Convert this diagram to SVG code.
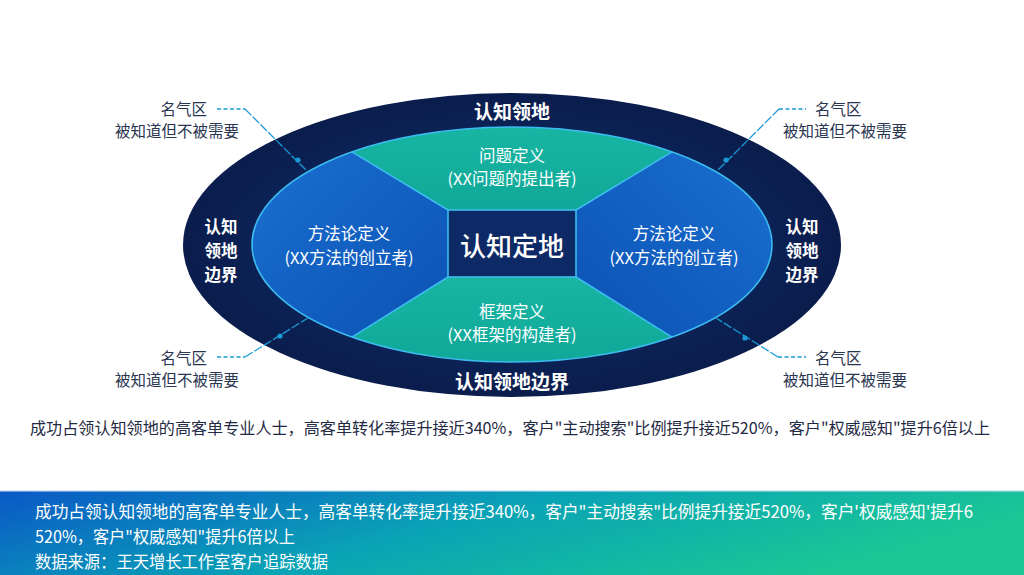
<svg xmlns="http://www.w3.org/2000/svg" width="1024" height="575" viewBox="0 0 1024 575">
<defs>
<radialGradient id="gOuter" cx="50%" cy="50%" r="50%">
<stop offset="0%" stop-color="#12306e"/>
<stop offset="100%" stop-color="#0a1d4d"/>
</radialGradient>
<linearGradient id="gBlueL" x1="0" y1="0" x2="1" y2="1">
<stop offset="0%" stop-color="#1a6fd0"/>
<stop offset="100%" stop-color="#0b52b4"/>
</linearGradient>
<linearGradient id="gBlueR" x1="1" y1="0" x2="0" y2="1">
<stop offset="0%" stop-color="#1a6fd0"/>
<stop offset="100%" stop-color="#0b52b4"/>
</linearGradient>
<linearGradient id="gTeal" x1="0" y1="0" x2="0" y2="1">
<stop offset="0%" stop-color="#18b5a3"/>
<stop offset="100%" stop-color="#10a898"/>
</linearGradient>
<linearGradient id="gBanner" x1="0" y1="0" x2="1" y2="0.3">
<stop offset="0%" stop-color="#0a58c6"/>
<stop offset="50%" stop-color="#0aa2b6"/>
<stop offset="100%" stop-color="#1ac795"/>
</linearGradient>
<style>
text{font-family:"Noto Sans CJK SC","Noto Sans",sans-serif;dominant-baseline:central}
.w{fill:#ffffff}
.ring{font-size:19px;font-weight:700;fill:#ffffff;text-anchor:middle}
.side{font-size:16.5px;font-weight:700;fill:#ffffff;text-anchor:middle}
.seg{font-size:16.5px;fill:#ffffff;text-anchor:middle}
.call{font-size:15.5px;fill:#2a3550}
.edge{stroke:#3cbcf0;stroke-width:1.6;fill:none}
.lead{stroke:#1a9ad6;stroke-width:1.3;fill:none}
.dash{stroke-dasharray:4 2.5}
.dot{fill:#1a9ad6}
.ban{font-size:17px;fill:#ffffff}
</style>
</defs>
<rect width="1024" height="575" fill="#ffffff"/>

<g id="outer-ring">
<ellipse cx="512" cy="245" rx="329" ry="152" fill="url(#gOuter)"/>
<text class="ring" x="512" y="110">认知领地</text>
<text class="ring" x="512" y="380">认知领地边界</text>
<text class="side" x="221" y="226">认知</text>
<text class="side" x="221" y="250">领地</text>
<text class="side" x="221" y="274">边界</text>
<text class="side" x="802" y="226">认知</text>
<text class="side" x="802" y="250">领地</text>
<text class="side" x="802" y="274">边界</text>
</g>

<g id="left-method">
<path d="M352,151.9 L448,210 L448,277 L352,337.1 A260 117.5 0 0 1 352,151.9 Z" fill="url(#gBlueL)"/>
<text class="seg" x="349" y="233">方法论定义</text>
<text class="seg" x="349" y="257">(XX方法的创立者)</text>
</g>

<g id="right-method">
<path d="M672,151.9 A260 117.5 0 0 1 672,337.1 L576,277 L576,210 Z" fill="url(#gBlueR)"/>
<text class="seg" x="674" y="233">方法论定义</text>
<text class="seg" x="674" y="257">(XX方法的创立者)</text>
</g>

<g id="top-problem">
<path d="M352,151.9 A260 117.5 0 0 1 672,151.9 L576,210 L448,210 Z" fill="url(#gTeal)"/>
<text class="seg" x="512" y="155">问题定义</text>
<text class="seg" x="512" y="178">(XX问题的提出者)</text>
</g>

<g id="bottom-framework">
<path d="M448,277 L576,277 L672,337.1 A260 117.5 0 0 1 352,337.1 Z" fill="url(#gTeal)"/>
<text class="seg" x="512" y="311">框架定义</text>
<text class="seg" x="512" y="334">(XX框架的构建者)</text>
</g>

<g id="inner-edges">
<ellipse class="edge" cx="512" cy="244.5" rx="260" ry="117.5" stroke-width="2"/>
<path class="edge" d="M352,151.9 L448,210 M672,151.9 L576,210 M352,337.1 L448,277 M672,337.1 L576,277"/>
</g>

<g id="center">
<rect x="448" y="210" width="128" height="67" fill="#0e2a66" stroke="#3cbcf0" stroke-width="1.6"/>
<text x="512" y="244" font-size="26" font-weight="500" text-anchor="middle" class="w">认知定地</text>
</g>

<g id="connectors">
<path class="lead dash" d="M217,109 L245,109"/>
<path class="lead" d="M245,109 L307,171" stroke-dasharray="9 2"/>
<circle class="dot" cx="298" cy="160" r="2.6"/>
<path class="lead dash" d="M779,109 L806,109"/>
<path class="lead" d="M779,109 L717,171" stroke-dasharray="9 2"/>
<circle class="dot" cx="726" cy="160" r="2.6"/>
<path class="lead dash" d="M217,357 L245,357"/>
<path class="lead" d="M245,357 L308,318" stroke-dasharray="9 2"/>
<circle class="dot" cx="280" cy="336" r="2.6"/>
<path class="lead dash" d="M778,357 L806,357"/>
<path class="lead" d="M778,357 L716,318" stroke-dasharray="9 2"/>
<circle class="dot" cx="745" cy="338" r="2.6"/>
</g>

<g id="callout-tl">
<text class="call" x="207" y="108" text-anchor="end">名气区</text>
<text class="call" x="239" y="130" text-anchor="end">被知道但不被需要</text>
</g>
<g id="callout-tr">
<text class="call" x="815" y="108">名气区</text>
<text class="call" x="783" y="130">被知道但不被需要</text>
</g>
<g id="callout-bl">
<text class="call" x="207" y="357" text-anchor="end">名气区</text>
<text class="call" x="239" y="379" text-anchor="end">被知道但不被需要</text>
</g>
<g id="callout-br">
<text class="call" x="815" y="357">名气区</text>
<text class="call" x="783" y="379">被知道但不被需要</text>
</g>

<g id="caption">
<text x="30" y="427" font-size="16" fill="#1f2a44" textLength="960" lengthAdjust="spacingAndGlyphs">成功占领认知领地的高客单专业人士，高客单转化率提升接近340%，客户"主动搜索"比例提升接近520%，客户"权威感知"提升6倍以上</text>
</g>

<g id="banner">
<rect x="0" y="491" width="1024" height="84" fill="url(#gBanner)"/>
<rect x="0" y="490" width="1024" height="1.5" fill="#d5e6f2"/>
<text class="ban" x="35" y="510" textLength="938" lengthAdjust="spacingAndGlyphs">成功占领认知领地的高客单专业人士，高客单转化率提升接近340%，客户"主动搜索"比例提升接近520%，客户'权威感知'提升6</text>
<text class="ban" x="35" y="535" textLength="260" lengthAdjust="spacingAndGlyphs">520%，客户"权威感知"提升6倍以上</text>
<text class="ban" x="35" y="560" textLength="293" lengthAdjust="spacingAndGlyphs">数据来源：王天增长工作室客户追踪数据</text>
</g>
</svg>
